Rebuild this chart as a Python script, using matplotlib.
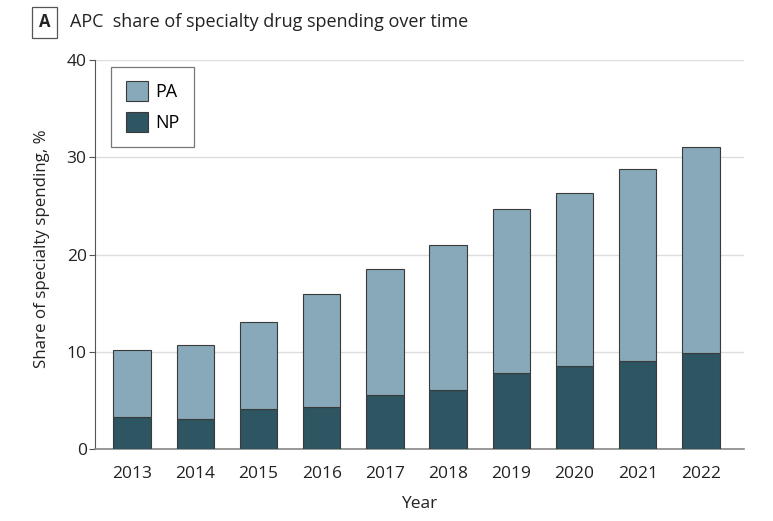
import matplotlib
matplotlib.use("Agg")
import matplotlib.pyplot as plt
from matplotlib.patches import Patch
import numpy as np

plt.rcParams['font.family'] = ['Open Sans', 'DejaVu Sans']

years = ['2013', '2014', '2015', '2016', '2017', '2018', '2019', '2020', '2021', '2022']
np_share = [3.25, 3.1, 4.1, 4.3, 5.6, 6.1, 7.8, 8.5, 9.1, 9.9]
total_share = [10.2, 10.7, 13.1, 15.9, 18.5, 21.0, 24.7, 26.3, 28.8, 31.1]
pa_share = [t - n for t, n in zip(total_share, np_share)]

pa_color = '#87a9b9'
np_color = '#2e5562'
edge = '#3a3a3a'
txt = '#222222'

fig = plt.figure(figsize=(7.73, 5.21), dpi=100)
ax = fig.add_axes([0.1229, 0.1382, 0.8396, 0.7466])

x = np.arange(len(years))
ax.bar(x, np_share, width=0.59, color=np_color, edgecolor=edge, linewidth=0.8, zorder=3)
ax.bar(x, pa_share, width=0.59, bottom=np_share, color=pa_color, edgecolor=edge,
       linewidth=0.8, zorder=3)

ax.set_ylim(0, 40)
ax.set_xlim(-0.585, 9.68)
ax.set_yticks([0, 10, 20, 30, 40])
ax.set_xticks(x)
ax.set_xticklabels(years)
ax.yaxis.grid(True, color='#dddddd', linewidth=1, zorder=0)
ax.set_axisbelow(True)

for s in ['top', 'right']:
    ax.spines[s].set_visible(False)
ax.spines['left'].set_color('#555555')
ax.spines['bottom'].set_color('#888888')
ax.spines['bottom'].set_linewidth(1.2)
ax.tick_params(axis='y', length=4, color='#555555', labelsize=12.5, labelcolor=txt, pad=2)
ax.tick_params(axis='x', length=0, labelsize=12.5, labelcolor=txt, pad=12)

ax.set_ylabel('Share of specialty spending, %', fontsize=12.2, color=txt)
ax.yaxis.set_label_coords(-0.069, 0.515)
ax.set_xlabel('Year', fontsize=12.5, color=txt, labelpad=10)

handles = [Patch(facecolor=pa_color, edgecolor=edge, linewidth=0.8, label='PA'),
           Patch(facecolor=np_color, edgecolor=edge, linewidth=0.8, label='NP')]
leg = ax.legend(handles=handles, loc='upper left', bbox_to_anchor=(0.025, 0.982),
                borderaxespad=0, fontsize=13, frameon=True, fancybox=False,
                edgecolor='#555555', handlelength=1.25, handleheight=1.3, borderpad=0.8,
                labelspacing=0.6, handletextpad=0.4)
leg.get_frame().set_linewidth(0.9)

fig.text(0.058, 0.957, 'A', fontsize=12, fontweight='bold', ha='center', va='center',
         color=txt,
         bbox=dict(boxstyle='square,pad=0.4', facecolor='white', edgecolor='#555555', linewidth=0.9))
fig.text(0.091, 0.957, 'APC  share of specialty drug spending over time', fontsize=13,
         ha='left', va='center', color=txt)

fig.savefig('out.png', dpi=100)
